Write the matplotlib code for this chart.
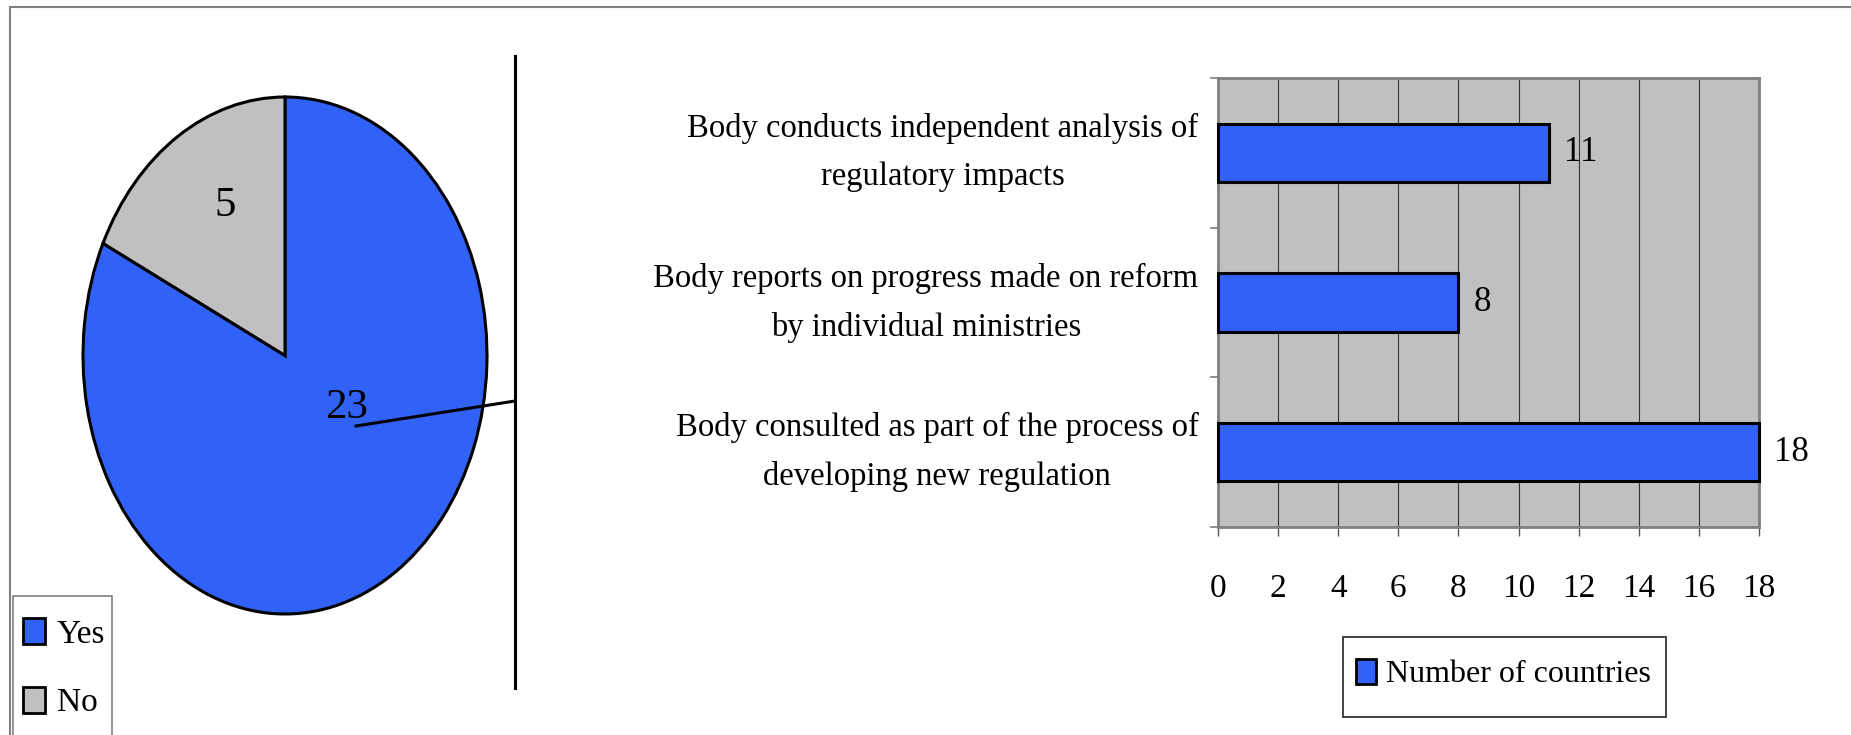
import matplotlib.pyplot as plt
from matplotlib.patches import Rectangle, Patch
from matplotlib.lines import Line2D
from matplotlib.transforms import ScaledTranslation

plt.rcParams['font.family'] = ['Liberation Serif', 'DejaVu Serif']

W, H = 1851, 735

# data
pie_labels = ['Yes', 'No']
pie_values = [23, 5]
pie_colors = ['#3162F7', '#C0C0C0']

bar_labels = ['Body consulted as part of the process of\ndeveloping new regulation',
              'Body reports on progress made on reform\nby individual ministries',
              'Body conducts independent analysis of\nregulatory impacts']
bar_values = [18, 8, 11]
bar_series = 'Number of countries'
x_ticks = [0, 2, 4, 6, 8, 10, 12, 14, 16, 18]

blue = '#3162F7'
fs = 24


def box(l, t, r, b):
    # pixel box -> figure fraction [left, bottom, width, height]
    return [l / W, 1 - b / H, (r - l) / W, (b - t) / H]


def pt(x, y):
    return x / W, 1 - y / H


fig = plt.figure(figsize=(W / 100, H / 100), dpi=100)

# outer frame
fig.add_artist(Rectangle(pt(10, 760), 1.2, (760 - 7) / H, transform=fig.transFigure,
                         fill=False, edgecolor='#808080', linewidth=1.5, zorder=0))

################ PIE #######################
ax1 = fig.add_axes(box(83, 97, 487, 614))
wedges, texts, autotexts = ax1.pie(
    pie_values, colors=pie_colors, startangle=90, counterclock=False,
    autopct=lambda p: '%d' % round(p * sum(pie_values) / 100),
    wedgeprops=dict(edgecolor='black', linewidth=2.2),
    textprops=dict(fontsize=31))
ax1.set_aspect('auto')
ax1.set_xlim(-1, 1)
ax1.set_ylim(-1, 1)
for w in wedges:
    w.set_clip_on(False)
autotexts[0].set_position((0.307, -0.202))
autotexts[1].set_position((-0.297, 0.581))

# leader line and separator
fig.add_artist(Line2D([356 / W, 515 / W], [1 - 426 / H, 1 - 401 / H],
                      transform=fig.transFigure, color='black', linewidth=2.2))
fig.add_artist(Line2D([515 / W, 515 / W], [1 - 56 / H, 1 - 688 / H],
                      transform=fig.transFigure, color='black', linewidth=2.2))

# pie legend
fig.add_artist(Rectangle(pt(13, 760), 99 / W, (760 - 596) / H, transform=fig.transFigure,
                         fill=False, edgecolor='#808080', linewidth=1.2))
handles = [Patch(facecolor=c, edgecolor='black', linewidth=2) for c in pie_colors]
fig.legend(handles, pie_labels, loc='upper left', bbox_to_anchor=pt(23, 618),
           frameon=False, fontsize=fs, borderpad=0, borderaxespad=0,
           handlelength=0.66, handleheight=0.82, handletextpad=0.35, labelspacing=1.12)

################ BARS #######################
ax2 = fig.add_axes(box(1218, 78, 1759, 527))
bars = ax2.barh(range(len(bar_values)), bar_values, height=0.39, color=blue,
                edgecolor='black', linewidth=2.2, zorder=3, clip_on=False)
ax2.bar_label(bars, padding=11, fontsize=25)
ax2.set_xlim(0, 18)
ax2.set_ylim(-0.5, 2.5)
ax2.set_facecolor('#C0C0C0')
ax2.set_xticks(x_ticks)
ax2.xaxis.grid(True, color='#333333', linewidth=0.8)
ax2.set_axisbelow(True)
ax2.set_yticks([-0.5, 0.5, 1.5, 2.5])
ax2.set_yticklabels([])
ax2.set_yticks(range(3), minor=True)
ax2.set_yticklabels(bar_labels, minor=True, fontsize=23.5, ma='center', linespacing=1.75)
ax2.tick_params(axis='y', which='minor', length=0, pad=14)
ax2.tick_params(axis='y', which='major', length=6, color='#808080', width=1.2)
ax2.tick_params(axis='x', length=6.5, pad=27, labelsize=fs, color='#555555', width=1)
for s in ax2.spines.values():
    s.set_color('#808080')
    s.set_linewidth(2)
shift = ScaledTranslation(0, 9 / 72, fig.dpi_scale_trans)
for lab in ax2.get_yticklabels(minor=True):
    lab.set_transform(lab.get_transform() + shift)

# bar legend
fig.add_artist(Rectangle(pt(1343, 717), 323 / W, 80 / H, transform=fig.transFigure,
                         fill=False, edgecolor='#222222', linewidth=1.2))
fig.legend([Patch(facecolor=blue, edgecolor='black', linewidth=2)], [bar_series],
           loc='center left', bbox_to_anchor=pt(1356, 674), frameon=False, fontsize=23,
           borderpad=0, borderaxespad=0, handlelength=0.63, handleheight=0.87,
           handletextpad=0.3)

plt.savefig('out.png', dpi=100)
